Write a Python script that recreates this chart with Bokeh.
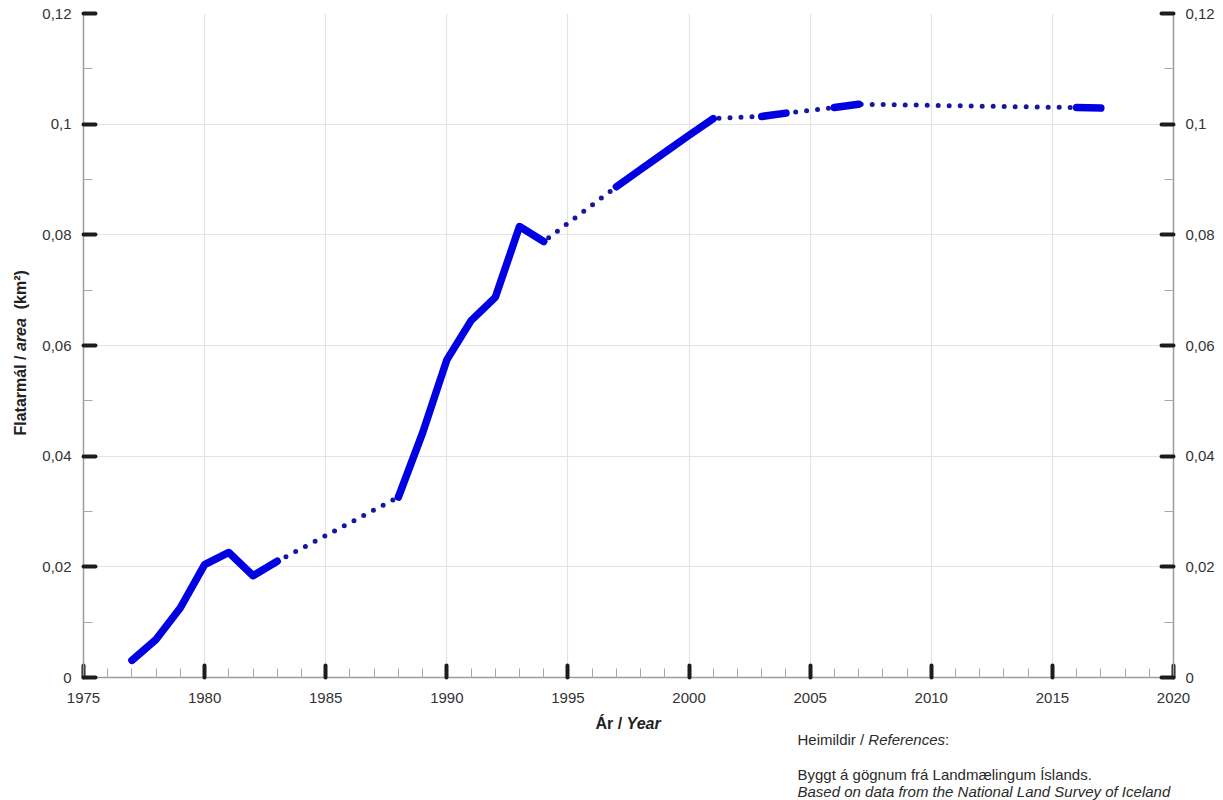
import math

from bokeh.embed import file_html
from bokeh.layouts import column, row
from bokeh.models import FixedTicker, Label, LinearAxis, Range1d
from bokeh.plotting import figure
from bokeh.resources import INLINE

# Surveyed area per year (km²); gaps between survey years are bridged by a dotted line
years = [1977, 1978, 1979, 1980, 1981, 1982, 1983,
         1988, 1989, 1990, 1991, 1992, 1993, 1994,
         1997, 1998, 1999, 2000, 2001,
         2003, 2004, 2006, 2007, 2016, 2017]
area = [0.0031, 0.0069, 0.0126, 0.0204, 0.0226, 0.0184, 0.0210,
        0.0326, 0.0442, 0.0574, 0.0645, 0.0687, 0.0815, 0.0788,
        0.0887, 0.0918, 0.0949, 0.0980, 0.1010,
        0.1014, 0.1020, 0.1030, 0.1036, 0.1030, 0.1029]

x_major = [1975, 1980, 1985, 1990, 1995, 2000, 2005, 2010, 2015, 2020]
x_minor = [yr for yr in range(1975, 2021) if yr % 5]
y_major = [0, 0.02, 0.04, 0.06, 0.08, 0.10, 0.12]
y_minor = [0.01, 0.03, 0.05, 0.07, 0.09, 0.11]
y_tick_labels = ["0", "0,02", "0,04", "0,06", "0,08", "0,1", "0,12"]

FONT = "Liberation Sans"
W, H = 1223, 800
SIDE_W = 30          # strip on the left holding the y-axis title
MAIN_H = 712         # chart panel height; the caption strip fills the rest
FRAME_L, FRAME_R = 83, 1173          # page x of the plotting area
LEFT, RIGHT, TOP = FRAME_L - SIDE_W, W - FRAME_R, 13
FRAME_H = 664

# ---------------------------------------------------------------- main chart
p = figure(width=W - SIDE_W, height=MAIN_H,
           x_range=Range1d(1975, 2020), y_range=Range1d(0, 0.12),
           output_backend="svg", toolbar_location=None,
           min_border_left=LEFT, min_border_right=RIGHT,
           min_border_top=TOP, min_border_bottom=MAIN_H - TOP - FRAME_H)
p.outline_line_color = None
p.background_fill_color = "white"
p.border_fill_color = "white"

x_ticker = FixedTicker(ticks=x_major, minor_ticks=x_minor)
y_ticker = FixedTicker(ticks=y_major, minor_ticks=y_minor)
y_overrides = {t: s for t, s in zip(y_major, y_tick_labels)}

right_axis = LinearAxis()
p.add_layout(right_axis, "right")


def style_axis(ax, ticker, standoff):
    ax.ticker = ticker
    ax.axis_line_color = "#9c9c9c"
    ax.axis_line_width = 1.5
    ax.major_tick_line_color = "#1c1c1c"
    ax.major_tick_line_width = 4
    ax.major_tick_line_cap = "round"
    ax.major_tick_in = 12
    ax.major_tick_out = 0
    ax.minor_tick_line_color = "#a8a8a8"
    ax.minor_tick_line_width = 1
    ax.minor_tick_in = 9
    ax.minor_tick_out = 0
    ax.major_label_text_font = FONT
    ax.major_label_text_font_size = "15px"
    ax.major_label_text_color = "#333333"
    ax.major_label_standoff = standoff


style_axis(p.xaxis[0], x_ticker, 15)
for ax in (p.yaxis[0], right_axis):
    style_axis(ax, y_ticker, 12)
    ax.major_label_overrides = y_overrides

p.xgrid.ticker = x_ticker
p.ygrid.ticker = y_ticker
for g in (p.xgrid, p.ygrid):
    g.grid_line_color = "#e4e4e4"
    g.grid_line_width = 1.2

# dotted connector through every survey year
p.line(years, area, line_color="#1616a0", line_width=5,
       line_dash="0 11", line_cap="round")

# solid runs where the survey years follow one another
runs_x, runs_y = [], []
cur_x, cur_y = [years[0]], [area[0]]
for yr, a in zip(years[1:], area[1:]):
    if yr - cur_x[-1] == 1:
        cur_x.append(yr)
        cur_y.append(a)
    else:
        runs_x.append(cur_x)
        runs_y.append(cur_y)
        cur_x, cur_y = [yr], [a]
runs_x.append(cur_x)
runs_y.append(cur_y)
p.multi_line(runs_x, runs_y, line_color="#0000e2", line_width=7.5,
             line_cap="round", line_join="round")


# ------------------------------------------------------------- text strips
def text_strip(x0, x1, y0, w, h):
    """Blank panel whose plotting area spans page x [x0, x1] and page y [y0, y0+h];
    data units are page pixels."""
    f = figure(width=w, height=h, x_range=Range1d(x0, x1),
               y_range=Range1d(H - (y0 + h), H - y0),
               output_backend="svg", toolbar_location=None, min_border=0,
               x_axis_type=None, y_axis_type=None)
    f.grid.visible = False
    f.outline_line_color = None
    f.background_fill_color = "white"
    f.border_fill_color = "white"
    return f


side = text_strip(0, SIDE_W, 0, SIDE_W, H)
# the caption panel sits under the chart and shares its plotting-area columns
caption = text_strip(FRAME_L, FRAME_R, MAIN_H, W - SIDE_W, H - MAIN_H)


def label(fig, text, cx, cy, size, style="normal", angle=0.0, color="#222222"):
    fig.add_layout(Label(x=cx, y=H - cy, text=text, text_font=FONT,
                         text_font_size=size, text_font_style=style,
                         text_align="left", text_baseline="middle",
                         text_color=color, angle=angle))


# y-axis title, written bottom-to-top in three pieces (Arial-metric advance widths)
ysz = 16
adv_flat = 5.280 * ysz          # "Flatarmál / "
adv_area = 2.057 * ysz          # "area"
adv_gap = 2 * 0.278 * ysz       # two spaces
yc, ys = 20, 435
label(side, "Flatarmál /", yc, ys, f"{ysz}px", "bold", angle=math.pi / 2)
label(side, "area", yc, ys - adv_flat, f"{ysz}px", "bold italic", angle=math.pi / 2)
label(side, "(km²)", yc, ys - adv_flat - adv_area - adv_gap, f"{ysz}px", "bold",
      angle=math.pi / 2)

# x-axis title
xsz = 16
xs, xcy = 595, 723
label(caption, "Ár /", xs, xcy, f"{xsz}px", "bold")
label(caption, "Year", xs + 1.945 * xsz, xcy, f"{xsz}px", "bold italic")

# source note
nsz = 15
nx = 797
ink = "#2a2a2a"
label(caption, "Heimildir /", nx, 739, f"{nsz}px", color=ink)
label(caption, "References", nx + 4.722 * nsz, 739, f"{nsz}px", "italic", color=ink)
label(caption, ":", nx + (4.722 + 5.113) * nsz, 739, f"{nsz}px", color=ink)
label(caption, "Byggt á gögnum frá Landmælingum Íslands.", nx, 774,
      f"{nsz}px", color=ink)
label(caption, "Based on data from the National Land Survey of Iceland", nx, 791,
      f"{nsz}px", "italic", color=ink)

page = row(side, column(p, caption, spacing=0), spacing=0)
open("out.html", "w").write(file_html(page, INLINE))
